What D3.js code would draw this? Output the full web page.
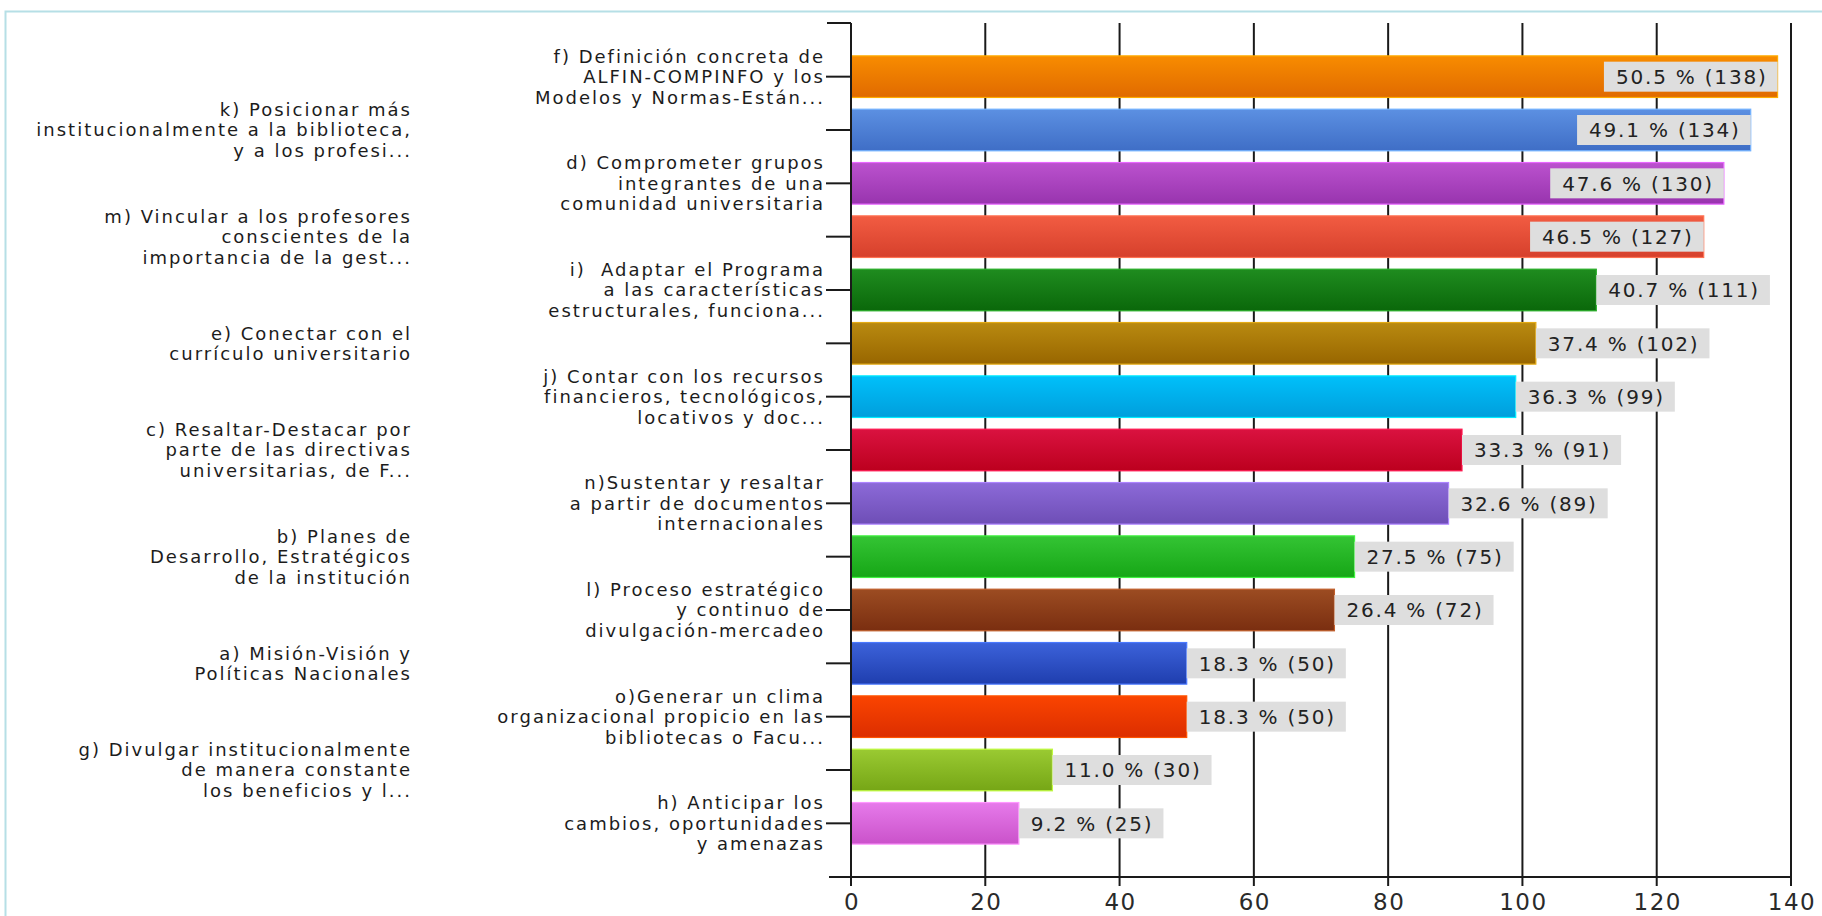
<!DOCTYPE html>
<html>
<head>
<meta charset="utf-8">
<script src="https://cdn.jsdelivr.net/npm/d3@7/dist/d3.min.js"></script>
<style>
  html, body { margin: 0; padding: 0; background: #ffffff; }
  svg { display: block; }
  .cat { white-space: pre; }
</style>
</head>
<body>
<svg id="chart" width="1822" height="916"></svg>
<script>
// ---------- DATA ----------
const categories = [
  ["f) Definición concreta de", "ALFIN-COMPINFO y los", "Modelos y Normas-Están..."],
  ["k) Posicionar más", "institucionalmente a la biblioteca,", "y a los profesi..."],
  ["d) Comprometer grupos", "integrantes de una", "comunidad universitaria"],
  ["m) Vincular a los profesores", "conscientes de la", "importancia de la gest..."],
  ["i)  Adaptar el Programa", "a las características", "estructurales, funciona..."],
  ["e) Conectar con el", "currículo universitario"],
  ["j) Contar con los recursos", "financieros, tecnológicos,", "locativos y doc..."],
  ["c) Resaltar-Destacar por", "parte de las directivas", "universitarias, de F..."],
  ["n)Sustentar y resaltar", "a partir de documentos", "internacionales"],
  ["b) Planes de", "Desarrollo, Estratégicos", "de la institución"],
  ["l) Proceso estratégico", "y continuo de", "divulgación-mercadeo"],
  ["a) Misión-Visión y", "Políticas Nacionales"],
  ["o)Generar un clima", "organizacional propicio en las", "bibliotecas o Facu..."],
  ["g) Divulgar institucionalmente", "de manera constante", "los beneficios y l..."],
  ["h) Anticipar los", "cambios, oportunidades", "y amenazas"]
];
const counts   = [138, 134, 130, 127, 111, 102, 99, 91, 89, 75, 72, 50, 50, 30, 25];
const percents = [50.5, 49.1, 47.6, 46.5, 40.7, 37.4, 36.3, 33.3, 32.6, 27.5, 26.4, 18.3, 18.3, 11.0, 9.2];
const colorsTop    = ["#f88c00", "#5c90e2", "#bb52ce", "#f25c42", "#1f8c1f", "#b98a10", "#00c0fa", "#da1240", "#8c6ad8", "#34c434", "#9c4c22", "#3c62da", "#fa4400", "#9aca32", "#e67aea"];
const colorsBottom = ["#e06a00", "#3f6ec6", "#9834ae", "#d6402c", "#0a680a", "#986600", "#009edc", "#bc001e", "#6e4eb6", "#16a616", "#7a2e10", "#1f3eae", "#dc2e00", "#76a616", "#ca52ca"];
const xTicks = [0, 20, 40, 60, 80, 100, 120, 140];

// ---------- LAYOUT ----------
const svg = d3.select("#chart");
const x0 = 851, x1 = 1791, yTop = 23, yAxis = 877;
const x = d3.scaleLinear().domain([0, 140]).range([x0, x1]);
const y = d3.scaleBand().domain(d3.range(categories.length)).range([50, 850])
  .paddingInner(0.22).paddingOuter(0.11);

// frame
svg.append("rect").attr("x", 5.5).attr("y", 11.5).attr("width", 1840).attr("height", 940)
  .attr("fill", "none").attr("stroke", "#b6dfe6").attr("stroke-width", 2);

// gradients
const defs = svg.append("defs");
counts.forEach((c, i) => {
  const g = defs.append("linearGradient").attr("id", "g" + i)
    .attr("x1", 0).attr("y1", 0).attr("x2", 0).attr("y2", 1);
  g.append("stop").attr("offset", "0%").attr("stop-color", colorsTop[i]);
  g.append("stop").attr("offset", "100%").attr("stop-color", colorsBottom[i]);
});

// gridlines
svg.append("g").selectAll("line").data(xTicks.slice(1)).join("line")
  .attr("x1", d => x(d)).attr("x2", d => x(d))
  .attr("y1", yTop).attr("y2", yAxis)
  .attr("stroke", "#1a1a1a").attr("stroke-width", 2);

// bars
svg.append("g").selectAll("rect").data(counts).join("rect")
  .attr("x", x(0)).attr("y", (d, i) => y(i))
  .attr("width", d => x(d) - x(0)).attr("height", y.bandwidth())
  .attr("fill", (d, i) => "url(#g" + i + ")")
  .attr("stroke", (d, i) => d3.color(colorsTop[i]).brighter(0.6))
  .attr("stroke-width", 1.2);

// value labels
const lab = svg.append("g");
counts.forEach((c, i) => {
  const txt = percents[i].toFixed(1) + " % (" + c + ")";
  const t = lab.append("text").text(txt)
    .attr("font-family", "DejaVu Sans").attr("font-size", 20)
    .attr("letter-spacing", 1.8).attr("fill", "#222");
  const w = t.node().getComputedTextLength();
  const bw = w + 22;
  const end = x(c);
  const bx = (end + bw > x1) ? end - bw : end;
  const cy = y(i) + y.bandwidth() / 2;
  lab.insert("rect", "text").attr("x", bx).attr("y", cy - 15).attr("width", bw).attr("height", 30)
    .attr("fill", "#dedede");
  t.attr("x", bx + 12).attr("y", cy).attr("dy", "0.36em");
});

// y axis
const ax = svg.append("g").attr("stroke", "#1a1a1a").attr("stroke-width", 2);
ax.append("line").attr("x1", x0).attr("x2", x0).attr("y1", yTop).attr("y2", yAxis);
ax.append("line").attr("x1", x0 - 24).attr("x2", x0).attr("y1", yTop).attr("y2", yTop);
ax.selectAll(".yt").data(d3.range(categories.length)).join("line")
  .attr("x1", x0 - 25).attr("x2", x0)
  .attr("y1", i => y(i) + y.bandwidth() / 2).attr("y2", i => y(i) + y.bandwidth() / 2);
// x axis
ax.append("line").attr("x1", x0 - 22).attr("x2", x1).attr("y1", yAxis).attr("y2", yAxis);
ax.selectAll(".xt").data(xTicks).join("line")
  .attr("x1", d => x(d)).attr("x2", d => x(d)).attr("y1", yAxis).attr("y2", yAxis + 9);

svg.append("g").selectAll("text").data(xTicks).join("text")
  .attr("x", d => x(d) + 1).attr("y", 910)
  .attr("text-anchor", "middle")
  .attr("font-family", "DejaVu Sans").attr("font-size", 23).attr("letter-spacing", 1.5)
  .attr("fill", "#2a2a2a").text(d => d);

// category labels
const cl = svg.append("g");
categories.forEach((lines, i) => {
  const right = (i % 2 === 0) ? 825 : 412;
  const cy = y(i) + y.bandwidth() / 2;
  const t = cl.append("text").attr("class", "cat").attr("text-anchor", "end")
    .attr("font-family", "DejaVu Sans").attr("font-size", 18).attr("letter-spacing", 2.0)
    .attr("fill", "#1c1c1c");
  lines.forEach((ln, k) => {
    t.append("tspan").attr("x", right).attr("y", cy + (k - (lines.length - 1) / 2) * 20.5)
      .attr("dy", "0.36em").text(ln);
  });
});
</script>
</body>
</html>
